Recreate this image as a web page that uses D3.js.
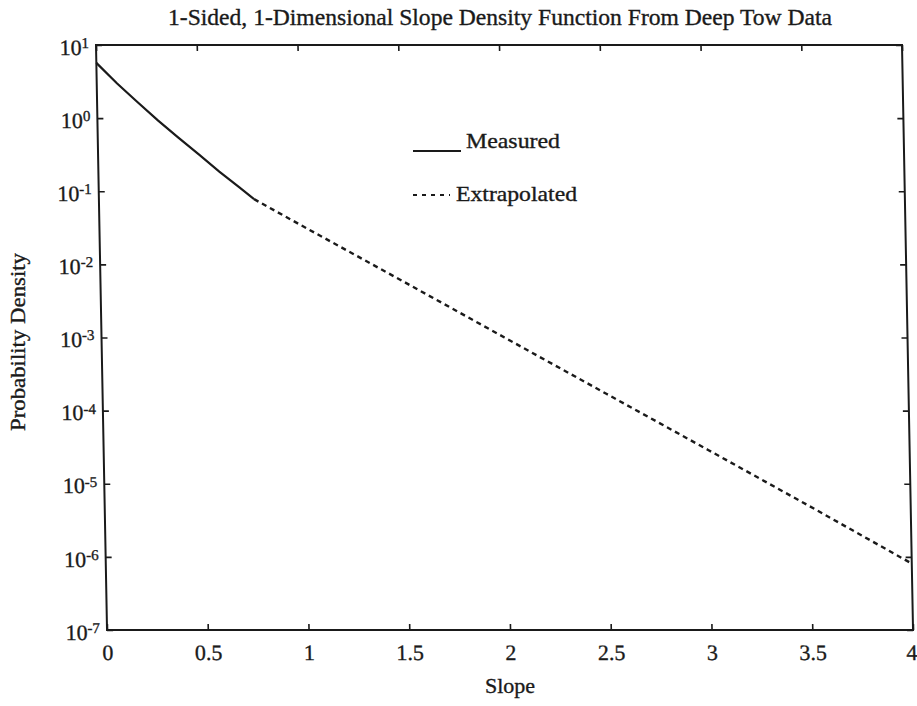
<!DOCTYPE html>
<html>
<head>
<meta charset="utf-8">
<script src="https://cdn.jsdelivr.net/npm/d3@7"></script>
<style>
  html, body { margin: 0; padding: 0; background: #fff; }
  svg { display: block; }
  svg text { font-family: "Liberation Serif", "Times New Roman", Times, serif; fill: #1a1a1a; stroke: #1a1a1a; stroke-width: 0.35px; }
</style>
</head>
<body>
<svg id="chart" width="917" height="706"></svg>
<script>
// Slope values and probability densities
const measuredSlope   = [0, 0.1, 0.2, 0.3, 0.4, 0.5, 0.6, 0.7, 0.77];
const measuredDensity = [5.7, 3.0, 1.66, 0.93, 0.54, 0.32, 0.186, 0.112, 0.078];
const extrapSlope     = [0.77, 1, 1.5, 2, 2.5, 3, 3.5, 4];
const extrapDensity   = [0.078, 0.0344, 0.0059, 1.0e-3, 1.7e-4, 2.9e-5, 4.9e-6, 8.1e-7];
const xTicks = [0, 0.5, 1, 1.5, 2, 2.5, 3, 3.5, 4];
const xTickLabels = ["0", "0.5", "1", "1.5", "2", "2.5", "3", "3.5", "4"];
const yExponents = [1, 0, -1, -2, -3, -4, -5, -6, -7];

const W = 806, H = 585;
const ink = "#1a1a1a";
const svg = d3.select("#chart");

svg.append("text")
  .attr("x", 500).attr("y", 25)
  .attr("text-anchor", "middle")
  .attr("font-size", 24)
  .attr("textLength", 664).attr("lengthAdjust", "spacingAndGlyphs")
  .text("1-Sided, 1-Dimensional Slope Density Function From Deep Tow Data");

svg.append("text")
  .attr("transform", "translate(25,342) rotate(-90)")
  .attr("text-anchor", "middle")
  .attr("font-size", 21)
  .attr("textLength", 178).attr("lengthAdjust", "spacingAndGlyphs")
  .text("Probability Density");

svg.append("text")
  .attr("x", 510).attr("y", 693)
  .attr("text-anchor", "middle")
  .attr("font-size", 22)
  .text("Slope");

const g = svg.append("g").attr("transform", "translate(96,45) skewX(1.08)");

const x = d3.scaleLinear().domain([0, 4]).range([0, W]);
const y = d3.scaleLog().domain([1e-7, 10]).range([H, 0]);

// Frame
g.append("rect").attr("x", 0).attr("y", 0).attr("width", W).attr("height", H)
  .attr("fill", "none").attr("stroke", ink).attr("stroke-width", 2);

const yVals = yExponents.map(e => Math.pow(10, e));

function styleAxis(sel) {
  sel.attr("font-family", null).attr("font-size", null);
  sel.select(".domain").remove();
  sel.selectAll(".tick line").attr("stroke", ink).attr("stroke-width", 1.6);
}

// Bottom axis with labels
const xb = g.append("g").attr("transform", `translate(0,${H})`)
  .call(d3.axisBottom(x).tickValues(xTicks).tickSize(-6).tickPadding(14)
    .tickFormat((d, i) => xTickLabels[i]));
styleAxis(xb);
xb.selectAll("text").attr("font-size", 22).attr("fill", ink);
xb.selectAll(".tick").filter(d => d === 4).select("text").attr("dx", "-0.1em");

// Top axis, ticks only
const xt = g.append("g")
  .call(d3.axisTop(x).tickValues(xTicks).tickSize(-6).tickFormat(""));
styleAxis(xt);

// Left axis with power-of-ten labels
const yl = g.append("g")
  .call(d3.axisLeft(y).tickValues(yVals).tickSize(-6).tickFormat(""));
styleAxis(yl);
yl.selectAll(".tick").each(function (d, i) {
  const t = d3.select(this).append("text")
    .attr("x", -7).attr("dy", "0.42em")
    .attr("text-anchor", "end")
    .attr("font-size", 22)
    .attr("fill", ink);
  t.append("tspan").text("10");
  t.append("tspan").attr("dy", "-0.45em").attr("font-size", 15)
    .text(String(yExponents[i]));
});

// Right axis, ticks only
const yr = g.append("g").attr("transform", `translate(${W},0)`)
  .call(d3.axisRight(y).tickValues(yVals).tickSize(-6).tickFormat(""));
styleAxis(yr);

const line = d3.line().x(d => x(d[0])).y(d => y(d[1]));

g.append("path")
  .datum(measuredSlope.map((s, i) => [s, measuredDensity[i]]))
  .attr("d", line).attr("fill", "none")
  .attr("stroke", ink).attr("stroke-width", 2.2);

g.append("path")
  .datum(extrapSlope.map((s, i) => [s, extrapDensity[i]]))
  .attr("d", line).attr("fill", "none")
  .attr("stroke", ink).attr("stroke-width", 2.4)
  .attr("stroke-dasharray", "5,4");

// Legend
const lg = svg.append("g");
lg.append("line").attr("x1", 413).attr("x2", 461).attr("y1", 151).attr("y2", 151)
  .attr("stroke", ink).attr("stroke-width", 1.8);
lg.append("text").attr("x", 466).attr("y", 148).attr("font-size", 21)
  .attr("textLength", 94).attr("lengthAdjust", "spacingAndGlyphs").text("Measured");
lg.append("line").attr("x1", 413).attr("x2", 450).attr("y1", 195).attr("y2", 195)
  .attr("stroke", ink).attr("stroke-width", 2.2).attr("stroke-dasharray", "4,5");
lg.append("text").attr("x", 456).attr("y", 201).attr("font-size", 21)
  .attr("textLength", 121).attr("lengthAdjust", "spacingAndGlyphs").text("Extrapolated");
</script>
</body>
</html>
